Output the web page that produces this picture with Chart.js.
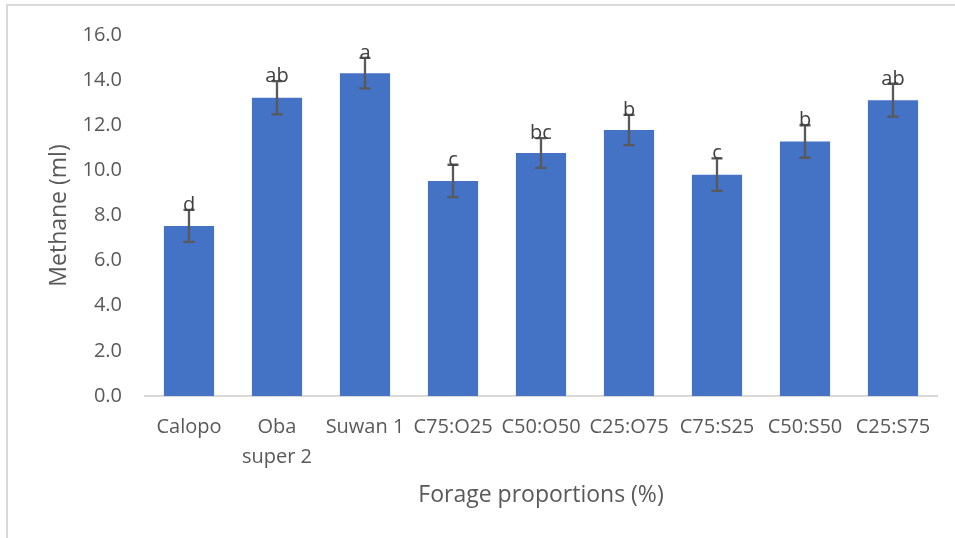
<!DOCTYPE html>
<html>
<head>
<meta charset="utf-8">
<script src="https://cdn.jsdelivr.net/npm/chart.js@4"></script>
<style>
  html, body { margin: 0; padding: 0; background: #ffffff; }
  #wrap { position: relative; width: 955px; height: 538px; overflow: hidden; }
  #frame { position: absolute; left: 6px; top: 4px; width: 1200px; height: 1200px; border: 2px solid #d9d9d9; box-sizing: border-box; pointer-events: none; }
  canvas { position: absolute; left: 0; top: 0; }
</style>
</head>
<body>
<div id="wrap">
  <canvas id="c" width="955" height="538"></canvas>
  <div id="frame"></div>
</div>
<script>
const categories = ["Calopo", ["Oba", "super 2"], "Suwan 1", "C75:O25", "C50:O50", "C25:O75", "C75:S25", "C50:S50", "C25:S75"];
const methane = [7.54, 13.22, 14.31, 9.53, 10.77, 11.79, 9.81, 11.28, 13.11];
const errors = [0.71, 0.74, 0.68, 0.72, 0.66, 0.67, 0.72, 0.72, 0.73];
const letters = ["d", "ab", "a", "c", "bc", "b", "c", "b", "ab"];
const yTicks = [0, 2, 4, 6, 8, 10, 12, 14, 16];

const FONT = "'Open Sans', 'DejaVu Sans', sans-serif";

const errorBarPlugin = {
  id: 'errorBars',
  afterDatasetsDraw(chart) {
    const ctx = chart.ctx;
    const meta = chart.getDatasetMeta(0);
    const y = chart.scales.y;
    ctx.save();
    ctx.strokeStyle = '#595959';
    ctx.lineWidth = 2.3;
    meta.data.forEach((bar, i) => {
      const v = methane[i], e = errors[i];
      const yTop = y.getPixelForValue(v + e);
      const yBot = y.getPixelForValue(v - e);
      const x = bar.x;
      ctx.beginPath();
      ctx.moveTo(x, yTop); ctx.lineTo(x, yBot);
      ctx.moveTo(x - 5.5, yTop); ctx.lineTo(x + 5.5, yTop);
      ctx.moveTo(x - 5.5, yBot); ctx.lineTo(x + 5.5, yBot);
      ctx.stroke();
    });
    ctx.fillStyle = '#404040';
    ctx.font = "20px " + FONT;
    ctx.textAlign = 'center';
    ctx.textBaseline = 'alphabetic';
    meta.data.forEach((bar, i) => {
      const yTop = y.getPixelForValue(methane[i] + errors[i]);
      ctx.fillText(letters[i], bar.x, yTop + 1);
    });
    ctx.restore();
  }
};

new Chart(document.getElementById('c'), {
  type: 'bar',
  data: {
    labels: categories,
    datasets: [{
      data: methane,
      backgroundColor: '#4472C4',
      borderWidth: 0,
      barPercentage: 0.57,
      categoryPercentage: 1.0
    }]
  },
  options: {
    responsive: false,
    animation: false,
    devicePixelRatio: 1,
    layout: { padding: { left: 0, right: 18, top: 34, bottom: 0 } },
    plugins: { legend: { display: false }, tooltip: { enabled: false } },
    scales: {
      x: {
        grid: { display: false, drawTicks: false },
        border: { display: true, color: '#d9d9d9', width: 2 },
        ticks: {
          color: '#595959',
          font: { family: FONT, size: 20, lineHeight: 1.5 },
          padding: 16,
          maxRotation: 0,
          autoSkip: false
        },
        title: {
          display: true,
          text: 'Forage proportions (%)',
          color: '#595959',
          font: { family: FONT, size: 23 },
          padding: { top: 0, bottom: 29 }
        },
        afterFit(scale) { scale.height = 142; }
      },
      y: {
        min: 0, max: 16,
        grid: { display: false, drawTicks: false },
        border: { display: false },
        afterBuildTicks(scale) { scale.ticks = yTicks.map(v => ({ value: v })); },
        ticks: {
          color: '#595959',
          font: { family: FONT, size: 20 },
          padding: 23,
          callback: (v) => Number(v).toFixed(1)
        },
        title: {
          display: true,
          text: 'Methane (ml)',
          color: '#595959',
          font: { family: FONT, size: 23 },
          padding: { top: 46, bottom: 0 }
        },
        afterFit(scale) { scale.width = 145; }
      }
    }
  },
  plugins: [errorBarPlugin]
});
</script>
</body>
</html>
